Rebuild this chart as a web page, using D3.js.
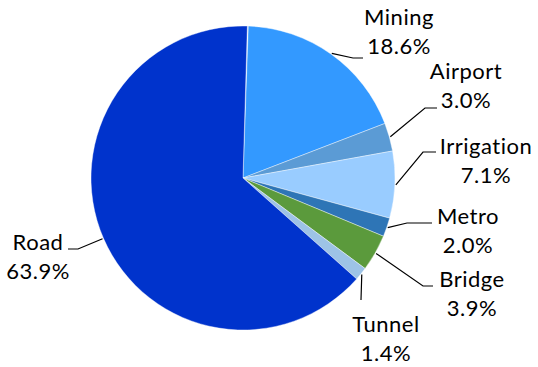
<!DOCTYPE html>
<html>
<head>
<meta charset="utf-8">
<script src="https://cdn.jsdelivr.net/npm/d3@7"></script>
<style>
  body { margin: 0; background: #fff; }
  text { font-family: Lato, "Open Sans", sans-serif; }
</style>
</head>
<body>
<div id="container"></div>
<script>
// data
let categories = ["Mining", "Airport", "Irrigation", "Metro", "Bridge", "Tunnel", "Road"];
let shares = [18.6, 3.0, 7.1, 2.0, 3.9, 1.4, 63.9];
let colors = ["#3399ff", "#5b9bd5", "#99ccff", "#2e75b6", "#5b9a3c", "#9dc3e6", "#0033cc"];

let w = 538;
let h = 367;
let cx = 243;
let cy = 178;
let r = 152;

// label layout: text centre x, first baseline y, leader elbow and end
let labelLayout = {
  "Mining":     {x: 399, y: 25,  elbow: [353, 58],  end: [363, 58]},
  "Airport":    {x: 466, y: 79,  elbow: [425, 108], end: [437, 108]},
  "Irrigation": {x: 486, y: 154, elbow: [423, 152], end: [436, 152]},
  "Metro":      {x: 468, y: 224, elbow: [407, 223], end: [432, 223]},
  "Bridge":     {x: 472, y: 287, elbow: [423, 286], end: [433, 286]},
  "Tunnel":     {x: 386, y: 332, elbow: [361, 300], end: [361, 300]},
  "Road":       {x: 38,  y: 250, elbow: [78, 249],  end: [68, 249]}
};

let svg = d3.select("#container")
  .append("svg")
    .attr("width", w)
    .attr("height", h)
;

let data = categories.map(function(c, i){
  return {name: c, value: shares[i], color: colors[i]};
});

let offset = 2 * Math.PI / 180;
let total = d3.sum(shares);

let pie = d3.pie()
  .sort(null)
  .value(function(d){ return d.value; })
  .startAngle(offset)
  .endAngle(offset + 2 * Math.PI * total / 100)
;

let arc = d3.arc().innerRadius(0).outerRadius(r);

let slices = pie(data);

let g = svg.append("g").attr("transform", "translate(" + cx + "," + cy + ")");

g.selectAll("path")
  .data(slices)
  .enter()
  .append("path")
    .attr("d", arc)
    .attr("fill", function(d){ return d.data.color; })
    .attr("stroke", "#ffffff")
    .attr("stroke-width", 0.4)
;

// leader lines
let line = d3.line();
slices.forEach(function(d){
  let lay = labelLayout[d.data.name];
  let mid = (d.startAngle + d.endAngle) / 2;
  let sx = cx + (r + 1) * Math.sin(mid);
  let sy = cy - (r + 1) * Math.cos(mid);
  svg.append("path")
    .attr("d", line([[sx, sy], lay.elbow, lay.end]))
    .attr("fill", "none")
    .attr("stroke", "#000")
    .attr("stroke-width", 1.2)
  ;
});

// labels
slices.forEach(function(d){
  let lay = labelLayout[d.data.name];
  let t = svg.append("text")
    .attr("text-anchor", "middle")
    .attr("font-size", "22px")
    .attr("letter-spacing", "0.5px")
    .attr("fill", "#000")
  ;
  t.append("tspan").attr("x", lay.x).attr("y", lay.y).text(d.data.name);
  t.append("tspan").attr("x", lay.x).attr("y", lay.y + 29).text(d3.format(".1f")(d.data.value) + "%");
});
</script>
</body>
</html>
